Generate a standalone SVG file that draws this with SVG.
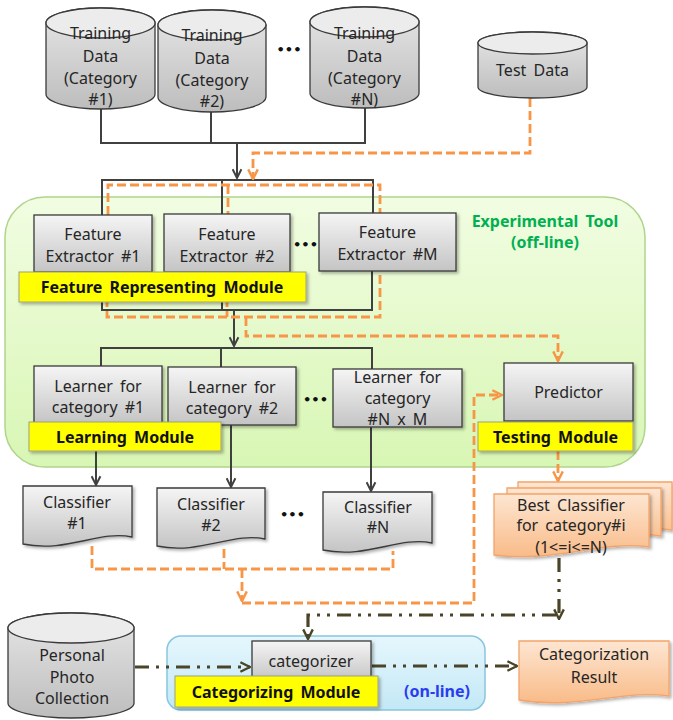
<svg xmlns="http://www.w3.org/2000/svg" width="673" height="720" viewBox="0 0 673 720">
<defs>
<linearGradient id="gg" x1="0" y1="0" x2="0" y2="1"><stop offset="0" stop-color="#f5f5f5"/><stop offset="1" stop-color="#c4c4c4"/></linearGradient>
<linearGradient id="cg" x1="0" y1="0" x2="0" y2="1"><stop offset="0" stop-color="#e6e6e6"/><stop offset="1" stop-color="#bdbdbd"/></linearGradient>
<linearGradient id="og" x1="0" y1="0" x2="0" y2="1"><stop offset="0" stop-color="#fde6d2"/><stop offset="1" stop-color="#f9bb88"/></linearGradient>
<linearGradient id="grn" x1="0" y1="0" x2="0" y2="1"><stop offset="0" stop-color="#f1fde2"/><stop offset="1" stop-color="#d8f6b4"/></linearGradient>
<linearGradient id="blu" x1="0" y1="0" x2="0" y2="1"><stop offset="0" stop-color="#e6f7fd"/><stop offset="1" stop-color="#c3e8f6"/></linearGradient>
<filter id="sh" x="-10%" y="-10%" width="130%" height="140%"><feDropShadow dx="2" dy="2" stdDeviation="1.5" flood-color="#000" flood-opacity="0.3"/></filter>
<marker id="ab" viewBox="0 0 10 10" refX="9" refY="5" markerUnits="userSpaceOnUse" markerWidth="11" markerHeight="11" orient="auto"><path d="M1,1 L9,5 L1,9" fill="none" stroke="#404040" stroke-width="1.8"/></marker>
<marker id="ao" viewBox="0 0 10 10" refX="9" refY="5" markerUnits="userSpaceOnUse" markerWidth="12" markerHeight="12" orient="auto"><path d="M1,1 L9,5 L1,9" fill="none" stroke="#f79646" stroke-width="2"/></marker>
<marker id="ad" viewBox="0 0 10 10" refX="9" refY="5" markerUnits="userSpaceOnUse" markerWidth="12" markerHeight="12" orient="auto"><path d="M1,1 L9,5 L1,9" fill="none" stroke="#4a4528" stroke-width="2"/></marker>
</defs>
<style>
.t{font-family:"Noto Sans","DejaVu Sans",sans-serif;font-size:16px;fill:#262626;text-anchor:middle;word-spacing:3px}
.b{font-weight:bold;fill:#111}
.box{fill:url(#gg);stroke:#3a3a3a;stroke-width:1.3;filter:url(#sh)}
.cyl{fill:url(#cg);stroke:#3a3a3a;stroke-width:1.3}
.top{fill:#ececec;stroke:#3a3a3a;stroke-width:1.3}
.yl{fill:#ffff00;stroke:#a0a080;stroke-width:1;filter:url(#sh)}
.doc{fill:url(#gg);stroke:#3a3a3a;stroke-width:1.3;filter:url(#sh)}
.odoc{fill:url(#og);stroke:#f4a46a;stroke-width:1.3;filter:url(#sh)}
.k{fill:none;stroke:#404040;stroke-width:2}
.o{fill:none;stroke:#f79646;stroke-width:2.8;stroke-dasharray:9 4}
.d{fill:none;stroke:#4a4528;stroke-width:3.2;stroke-dasharray:14 7 3 7 3 7}
.dots{font-family:"DejaVu Sans",sans-serif;font-size:13px;font-weight:bold;fill:#111;text-anchor:middle}
</style>

<g id="experimental-tool">
<rect x="5" y="197" width="640" height="270" rx="40" fill="url(#grn)" stroke="#b0d48c" stroke-width="1.5"/>
<text class="t b" x="545" y="227" style="fill:#00b050">Experimental Tool</text>
<text class="t b" x="545" y="248" style="fill:#00b050">(off-line)</text>
</g>
<g id="online-area">
<rect x="167" y="636" width="318" height="74" rx="14" fill="url(#blu)" stroke="#88c6e0" stroke-width="1.5"/>
<text class="t b" x="437" y="697" style="fill:#2a3cf0">(on-line)</text>
</g>

<g id="connectors">
<path class="k" d="M101,109 V143 H365 V108 M211,112 V143"/>
<path class="k" d="M237,143 V178" marker-end="url(#ab)"/>
<path class="k" d="M102,215 V180 H373 V213 M222,180 V214"/>
<path class="k" d="M102,272 V310 H372 V271 M222,272 V310"/>
<path class="k" d="M234,310 V346" marker-end="url(#ab)"/>
<path class="k" d="M101,366 V348 H372 V369 M221,348 V367"/>
<path class="k" d="M96,451 V485" marker-end="url(#ab)"/>
<path class="k" d="M231,425 V487" marker-end="url(#ab)"/>
<path class="k" d="M371,427 V491" marker-end="url(#ab)"/>

<path class="o" d="M530,98 V153 H253 V179" marker-end="url(#ao)"/>
<path class="o" d="M108,215 V185 H380 V213 M228,185 V214"/>
<path class="o" d="M107,272 V317 H380 V271 M227,272 V317"/>
<path class="o" d="M246,317 V336 H558 V361" marker-end="url(#ao)"/>
<path class="o" d="M558,451 V481" marker-end="url(#ao)"/>
<path class="o" d="M92,546 V569 H393 V551 M224,549 V569"/>
<path class="o" d="M242,569 V601" marker-end="url(#ao)"/>
<path class="o" d="M242,603 H474 V395 H502" marker-end="url(#ao)"/>

<path class="d" d="M559,558 V619" marker-end="url(#ad)"/>
<path class="d" d="M556,615 H308 V639" marker-end="url(#ad)"/>
<path class="d" d="M135,667 H250" marker-end="url(#ad)"/>
<path class="d" d="M372,666 H517" marker-end="url(#ad)"/>
</g>

<g id="training-data-1">
<path class="cyl" d="M46,23 V94 A54.5,15 0 0 0 155,94 V23 A54.5,15 0 0 0 46,23 Z"/>
<ellipse class="top" cx="100.5" cy="23" rx="54.5" ry="15"/>
<text class="t" x="100.5" y="39">Training</text><text class="t" x="100.5" y="62">Data</text><text class="t" x="100.5" y="84">(Category</text><text class="t" x="100.5" y="105">#1)</text>
</g>
<g id="training-data-2">
<path class="cyl" d="M158,25 V97 A54,15 0 0 0 266,97 V25 A54,15 0 0 0 158,25 Z"/>
<ellipse class="top" cx="212" cy="25" rx="54" ry="15"/>
<text class="t" x="212" y="41">Training</text><text class="t" x="212" y="64">Data</text><text class="t" x="212" y="86">(Category</text><text class="t" x="212" y="107">#2)</text>
</g>
<text class="dots" x="289" y="54">•••</text>
<g id="training-data-n">
<path class="cyl" d="M310,22 V93 A54.5,15 0 0 0 419,93 V22 A54.5,15 0 0 0 310,22 Z"/>
<ellipse class="top" cx="364.5" cy="22" rx="54.5" ry="15"/>
<text class="t" x="364.5" y="39">Training</text><text class="t" x="364.5" y="62">Data</text><text class="t" x="364.5" y="84">(Category</text><text class="t" x="364.5" y="105">#N)</text>
</g>
<g id="test-data">
<path class="cyl" d="M478,43 V87 A54.5,11 0 0 0 587,87 V43 A54.5,11 0 0 0 478,43 Z"/>
<ellipse class="top" cx="532.5" cy="43" rx="54.5" ry="11"/>
<text class="t" x="532.5" y="76">Test Data</text>
</g>

<g id="feature-extractor-1"><rect class="box" x="34" y="215" width="118" height="57"/><text class="t" x="93" y="240">Feature</text><text class="t" x="93" y="262">Extractor #1</text></g>
<g id="feature-extractor-2"><rect class="box" x="164" y="214" width="126" height="58"/><text class="t" x="227" y="240">Feature</text><text class="t" x="227" y="262">Extractor #2</text></g>
<text class="dots" x="305.5" y="249">•••</text>
<g id="feature-extractor-m"><rect class="box" x="319" y="213" width="137" height="58"/><text class="t" x="387.5" y="238">Feature</text><text class="t" x="387.5" y="260">Extractor #M</text></g>
<g id="feature-representing-module"><rect class="yl" x="19" y="272" width="287" height="30"/><text class="t b" x="162" y="293">Feature Representing Module</text></g>

<g id="learner-1"><rect class="box" x="34" y="366" width="128" height="58"/><text class="t" x="98" y="392">Learner for</text><text class="t" x="98" y="413">category #1</text></g>
<g id="learner-2"><rect class="box" x="168" y="367" width="128" height="58"/><text class="t" x="232" y="393">Learner for</text><text class="t" x="232" y="414">category #2</text></g>
<text class="dots" x="315.5" y="404">•••</text>
<g id="learner-nm"><rect class="box" x="333" y="369" width="129" height="58"/><text class="t" x="397.5" y="383">Learner for</text><text class="t" x="397.5" y="404">category</text><text class="t" x="397.5" y="425">#N x M</text></g>
<g id="learning-module"><rect class="yl" x="29" y="422" width="192" height="29"/><text class="t b" x="125" y="443">Learning Module</text></g>

<g id="predictor"><rect class="box" x="504" y="363" width="129" height="58"/><text class="t" x="568.5" y="398">Predictor</text></g>
<g id="testing-module"><rect class="yl" x="478" y="422" width="155" height="29"/><text class="t b" x="555.5" y="443">Testing Module</text></g>

<g id="classifier-1"><path class="doc" d="M23,486 H132 V537 C99,530 67,553 23,544 Z"/><text class="t" x="77" y="508">Classifier</text><text class="t" x="77" y="529">#1</text></g>
<g id="classifier-2"><path class="doc" d="M157,488 H265 V539 C233,532 200,555 157,546 Z"/><text class="t" x="211" y="510">Classifier</text><text class="t" x="211" y="531">#2</text></g>
<text class="dots" x="292.5" y="519">•••</text>
<g id="classifier-n"><path class="doc" d="M323,492 H432 V543 C399,536 367,559 323,550 Z"/><text class="t" x="378" y="513">Classifier</text><text class="t" x="378" y="533">#N</text></g>

<g id="best-classifier">
<path class="odoc" d="M518,482 H672 V530 C626,523 580,545 518,536 Z"/>
<path class="odoc" d="M507,488 H661 V536 C615,529 569,551 507,542 Z"/>
<path class="odoc" d="M494,494 H649 V547 C602,540 555,563 494,555 Z"/>
<text class="t" x="571" y="511">Best Classifier</text><text class="t" x="571" y="531">for category#i</text><text class="t" x="571" y="553">(1&lt;=i&lt;=N)</text>
</g>

<g id="personal-photo-collection">
<path class="cyl" d="M8,628 V703 A63,15 0 0 0 134,703 V628 A63,15 0 0 0 8,628 Z"/>
<ellipse class="top" cx="71" cy="628" rx="63" ry="15"/>
<text class="t" x="72" y="661">Personal</text><text class="t" x="72" y="683">Photo</text><text class="t" x="72" y="704">Collection</text>
</g>
<g id="categorizer"><rect class="box" x="252" y="641" width="119" height="40"/><text class="t" x="311" y="667">categorizer</text></g>
<g id="categorizing-module"><rect class="yl" x="175" y="676" width="203" height="31"/><text class="t b" x="276" y="698">Categorizing Module</text></g>
<g id="categorization-result"><path class="odoc" d="M519,641 H669 V696 C624,689 578,710 519,700 Z"/><text class="t" x="594" y="660">Categorization</text><text class="t" x="594" y="683">Result</text></g>
</svg>
